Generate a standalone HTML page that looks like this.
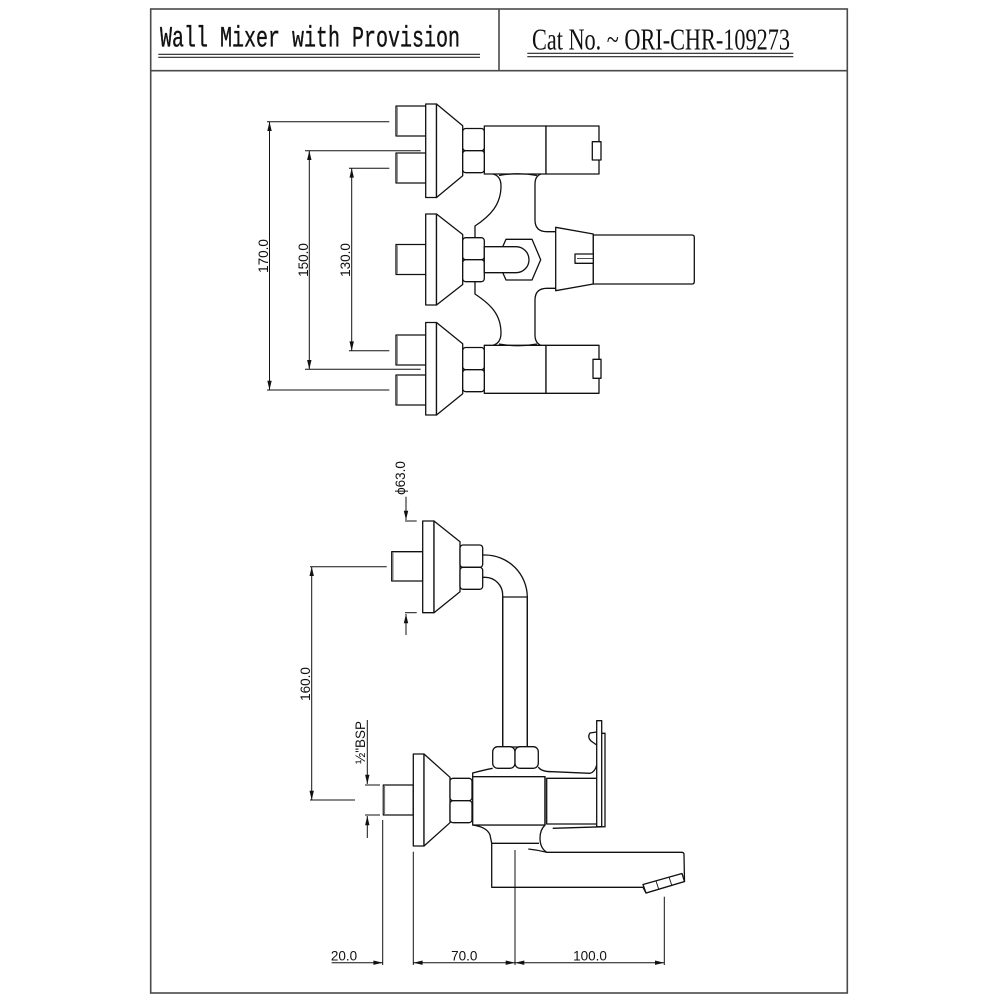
<!DOCTYPE html>
<html><head><meta charset="utf-8"><style>
html,body{margin:0;padding:0;background:#fff;width:1000px;height:1000px;overflow:hidden}
svg{display:block}
</style></head><body>
<svg width="1000" height="1000" viewBox="0 0 1000 1000" xmlns="http://www.w3.org/2000/svg">
<rect width="1000" height="1000" fill="#fff"/>
<!-- frame -->
<g fill="none" stroke="#4a4a4a" stroke-width="1.6">
<rect x="150.7" y="9" width="696.6" height="984"/>
<line x1="150.7" y1="70.7" x2="847.3" y2="70.7"/>
<line x1="499" y1="9" x2="499" y2="70.7"/>
</g>
<!-- header text -->
<text transform="translate(160,46.7) scale(1,1.18)" x="0" y="0" font-family="Liberation Mono, monospace" font-size="25" textLength="300" lengthAdjust="spacingAndGlyphs" fill="#111" stroke="#111" stroke-width="0.3">Wall Mixer with Provision</text>
<text x="532" y="49.3" font-family="Liberation Serif, serif" font-size="31" textLength="258" lengthAdjust="spacingAndGlyphs" fill="#111">Cat No. ~ ORI-CHR-109273</text>
<g stroke="#222" stroke-width="1.1">
<line x1="158.3" y1="54.3" x2="480" y2="54.3"/><line x1="158.3" y1="57.3" x2="480" y2="57.3"/>
<line x1="527.3" y1="53.3" x2="793.3" y2="53.3"/><line x1="527.3" y1="56.7" x2="793.3" y2="56.7"/>
</g>

<g fill="#fff" stroke="#111" stroke-width="1.3" stroke-linejoin="round">
<!-- ===== TOP VIEW ===== -->
<rect x="396" y="106" width="30" height="30"/>
<rect x="396" y="153" width="30" height="30"/>
<rect x="396" y="244.5" width="30" height="30"/>
<rect x="396" y="335" width="30" height="30"/>
<rect x="396" y="375" width="30" height="30"/>
<rect x="425.7" y="104" width="10.8" height="93.5"/>
<polygon points="436.5,104 462.7,125.7 462.7,175.8 436.5,197.5"/>
<rect x="425.7" y="214" width="10.8" height="91"/>
<polygon points="436.5,214 462.7,234.5 462.7,284.5 436.5,305"/>
<rect x="425.7" y="322.5" width="10.8" height="92.5"/>
<polygon points="436.5,322.5 462.7,343.7 462.7,393.8 436.5,415"/>
<rect x="484.3" y="126" width="61.7" height="48"/>
<rect x="546" y="126" width="53" height="48"/>
<rect x="592.3" y="141.7" width="8.7" height="18.3"/>
<rect x="484.3" y="345.3" width="61.7" height="48"/>
<rect x="546" y="345.3" width="53" height="48"/>
<rect x="593" y="359.3" width="8" height="19"/>
<rect x="462.7" y="128.5" width="21.6" height="22.2" rx="3"/>
<rect x="462.7" y="150.7" width="21.6" height="22" rx="3"/>
<rect x="462.7" y="237.7" width="21.6" height="22" rx="3"/>
<rect x="462.7" y="259.7" width="21.6" height="22" rx="3"/>
<rect x="462.7" y="347.5" width="21.6" height="22.2" rx="3"/>
<rect x="462.7" y="369.7" width="21.6" height="22" rx="3"/>
<polygon points="555.7,227.3 593.3,234 593.3,284 555.7,290.7"/>
<path d="M593.3 235 L692 235 Q694.3 235 694.3 237.5 L694.3 281.5 Q694.3 284 692 284 L593.3 284 Z"/>
<rect x="575" y="254" width="18.3" height="9.3"/>
<polygon points="506,239.3 532,239.3 540.7,259.7 532,280 506,280 497,259.7"/>
<path d="M484.3 246.7 L516 246.7 A13 13 0 0 1 516 272.7 L484.3 272.7 Z"/>
</g>
<g fill="none" stroke="#111" stroke-width="1.3">
<path d="M493 174 Q501 176 501 186 C501 205 490 216 475 226 L475 237.7"/>
<path d="M493 345.3 Q501 343 501 333 C501 314 490 304 475 294 L475 281.7"/>
<path d="M541 174 Q535 176 535 184 L535 220 Q535 231.7 547 231.7 L555.7 231.7"/>
<path d="M541 345.3 Q535 343 535 335 L535 300 Q535 288.3 547 288.3 L555.7 288.3"/>
<path d="M499 175.5 Q518 172 537 175.5"/>
<path d="M499 344 Q518 347.5 537 344"/>
<line x1="577" y1="258.6" x2="593.3" y2="258.6" stroke-width="0.8"/>
</g>
<g stroke="#777" stroke-width="1.6">
<line x1="397" y1="107" x2="397" y2="135"/><line x1="397" y1="154" x2="397" y2="182"/>
<line x1="397" y1="245.5" x2="397" y2="273.5"/><line x1="397" y1="336" x2="397" y2="364"/>
<line x1="397" y1="376" x2="397" y2="404"/>
</g>

<g stroke="#111" stroke-width="1" fill="none">
<line x1="267" y1="121.7" x2="389.3" y2="121.7"/><line x1="267" y1="390" x2="389.3" y2="390"/>
<line x1="269.5" y1="121.7" x2="269.5" y2="390"/>
<line x1="305" y1="150.7" x2="420.7" y2="150.7"/><line x1="305" y1="369.3" x2="420.7" y2="369.3"/>
<line x1="309.3" y1="150.7" x2="309.3" y2="369.3"/>
<line x1="349" y1="168.3" x2="389.3" y2="168.3"/><line x1="349" y1="350.7" x2="389.3" y2="350.7"/>
<line x1="351.7" y1="168.3" x2="351.7" y2="350.7"/>
</g>
<g fill="#111">
<polygon points="269.5,121.7 267.3,131 271.7,131"/><polygon points="269.5,390 267.3,380.7 271.7,380.7"/>
<polygon points="309.3,150.7 307.1,160 311.5,160"/><polygon points="309.3,369.3 307.1,360 311.5,360"/>
<polygon points="351.7,168.3 349.5,177.6 353.9,177.6"/><polygon points="351.7,350.7 349.5,341.4 353.9,341.4"/>
</g>
<g font-family="Liberation Sans, sans-serif" font-size="13.5" fill="#111" text-anchor="middle">
<text transform="translate(268,256) rotate(-90)">170.0</text>
<text transform="translate(308,260) rotate(-90)">150.0</text>
<text transform="translate(350,260) rotate(-90)">130.0</text>
<text transform="translate(405,478) rotate(-90)">ϕ63.0</text>
<text transform="translate(310,684) rotate(-90)">160.0</text>
<text transform="translate(365,742.5) rotate(-90)">½"BSP</text>
<text x="344" y="960.5">20.0</text>
<text x="464.3" y="960.5">70.0</text>
<text x="590" y="960.5">100.0</text>
</g>

<!-- ===== SIDE VIEW ===== -->
<g fill="#fff" stroke="#111" stroke-width="1.3" stroke-linejoin="round">
<rect x="391.7" y="551.7" width="31" height="29.3"/>
<rect x="422.7" y="521" width="11.3" height="91.7"/>
<polygon points="434,521 460,541.7 460,591.7 434,612.7"/>
<rect x="460" y="545" width="22.7" height="22.3" rx="3"/>
<rect x="460" y="567.3" width="22.7" height="22" rx="3"/>
<rect x="383.3" y="785" width="30" height="30"/>
<rect x="413.3" y="754" width="10.7" height="92"/>
<polygon points="424,754 450,777.3 450,822.7 424,846"/>
<path d="M491.7 843.3 L491.7 887.3 L643 887.3 L646 893 L684.5 881.5 L684 854.5 Q684 852.3 681.5 852.3 L546.7 852.3 Q540 848 540 838 Q540 830 545 825 L472.7 825 Q487 827 490 835 Z"/>
<polygon points="643,884.5 682,873.5 684.5,881.5 646,893"/>
<rect x="472.7" y="776.7" width="72.3" height="48.3"/>
<rect x="546.7" y="778.3" width="52.6" height="45.7"/>
<rect x="450" y="778.3" width="22" height="22.4" rx="3"/>
<rect x="450" y="800.7" width="22" height="22" rx="3"/>
<rect x="596.7" y="720.7" width="5" height="106"/>
<rect x="502.7" y="597" width="24.6" height="150"/>
<rect x="492.7" y="746.7" width="22.3" height="21.6" rx="5"/>
<rect x="515" y="746.7" width="23.3" height="21.6" rx="5"/>
</g>
<g fill="none" stroke="#111" stroke-width="1.3">
<path d="M482.7 555 L485 555 A42.3 42.3 0 0 1 527.3 597.3 L527.3 746.7"/>
<path d="M482.7 577.3 L485 577.3 A17.7 17.7 0 0 1 502.7 595 L502.7 746.7"/>
<path d="M472.7 776.7 L472.7 773 Q484 770 492.7 768.3"/>
<path d="M538.3 767 Q541 771.7 552 771.7 L590 773.3 Q595 772 596.7 765"/>
<path d="M601.7 733.3 L605 733.3 L605 826.7 L552.7 828.3"/>
<path d="M596.7 732 L590 733 Q587 737 591 741 L596.7 745"/>
<path d="M491.7 843.3 L539 843.3"/>
<path d="M528.3 849 Q538 850 546.7 852.3"/>
<line x1="545" y1="776.7" x2="545" y2="825"/>
<line x1="656" y1="881" x2="659" y2="890" stroke-width="0.9"/>
<line x1="669" y1="877" x2="672" y2="886" stroke-width="0.9"/>
</g>
<g stroke="#777" stroke-width="1.6">
<line x1="392.7" y1="552.7" x2="392.7" y2="580"/>
<line x1="384.3" y1="786" x2="384.3" y2="814"/>
</g>

<g stroke="#111" stroke-width="1" fill="none">
<line x1="406" y1="496.7" x2="406" y2="520"/>
<line x1="405" y1="521" x2="416.7" y2="521"/>
<line x1="405" y1="612.7" x2="416.7" y2="612.7"/>
<line x1="406" y1="614" x2="406" y2="635"/>
<line x1="311.7" y1="566.7" x2="311.7" y2="800"/>
<line x1="310" y1="566.7" x2="386.7" y2="566.7"/>
<line x1="310" y1="800" x2="355" y2="800"/>
<line x1="367.3" y1="720" x2="367.3" y2="784"/>
<line x1="365" y1="785" x2="380" y2="785"/>
<line x1="365" y1="815" x2="380" y2="815"/>
<line x1="367.3" y1="816" x2="367.3" y2="838"/>
<line x1="382.7" y1="820" x2="382.7" y2="965"/>
<line x1="413.3" y1="851.7" x2="413.3" y2="965"/>
<line x1="515" y1="850" x2="515" y2="965"/>
<line x1="664.3" y1="896.7" x2="664.3" y2="965"/>
<line x1="331.7" y1="962.7" x2="382.7" y2="962.7"/>
<line x1="413.3" y1="962.7" x2="664.3" y2="962.7"/>
</g>
<g fill="#111">
<polygon points="406,520 403.8,510.7 408.2,510.7"/>
<polygon points="406,614 403.8,623.3 408.2,623.3"/>
<polygon points="311.7,566.7 309.5,576 313.9,576"/>
<polygon points="311.7,800 309.5,790.7 313.9,790.7"/>
<polygon points="367.3,784 365.1,774.7 369.5,774.7"/>
<polygon points="367.3,816 365.1,825.3 369.5,825.3"/>
<polygon points="382.7,962.7 373.4,960.5 373.4,964.9"/>
<polygon points="413.3,962.7 422.6,960.5 422.6,964.9"/>
<polygon points="515,962.7 505.7,960.5 505.7,964.9"/>
<polygon points="515,962.7 524.3,960.5 524.3,964.9"/>
<polygon points="664.3,962.7 655,960.5 655,964.9"/>
</g>
</svg>
</body></html>
